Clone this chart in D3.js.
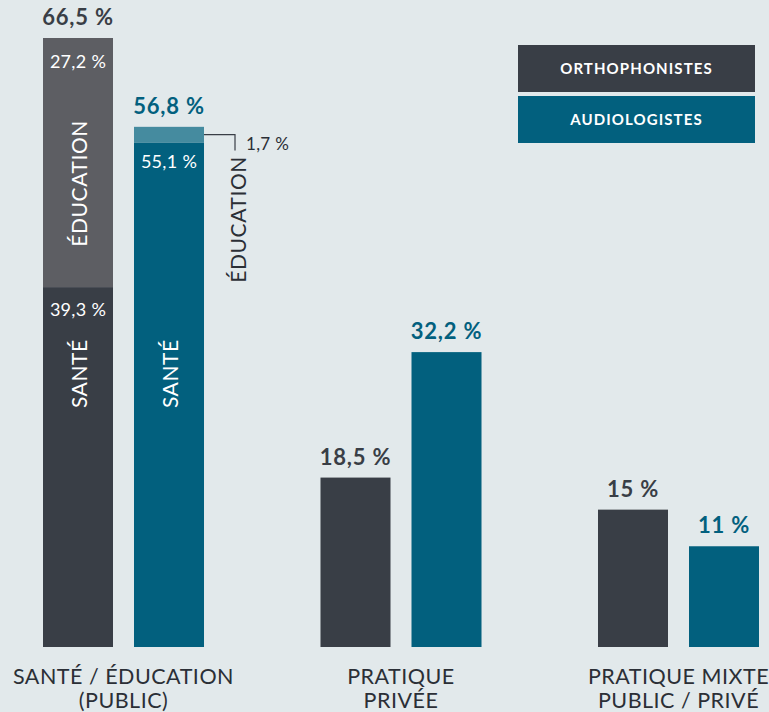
<!DOCTYPE html>
<html><head><meta charset="utf-8">
<script src="https://cdn.jsdelivr.net/npm/d3@7"></script>
<style>
html,body{margin:0;padding:0;background:#e2e9eb;}
svg{display:block;}
text{font-family:Lato,"Noto Sans",sans-serif;}
</style></head>
<body><svg id="c" width="769" height="712"></svg>
<script>
const categories = ["SANTÉ / ÉDUCATION|(PUBLIC)", "PRATIQUE|PRIVÉE", "PRATIQUE MIXTE|PUBLIC / PRIVÉ"];
const series = ["ORTHOPHONISTES", "AUDIOLOGISTES"];
const orthophonistes = [66.5, 18.5, 15];
const audiologistes = [56.8, 32.2, 11];
const santeOrtho = 39.3, educationOrtho = 27.2;
const santeAudio = 55.1, educationAudio = 1.7;
const valueLabels = {ortho: ["66,5 %", "18,5 %", "15 %"], audio: ["56,8 %", "32,2 %", "11 %"]};

const C = {bg:"#e2e9eb", dark:"#393e46", teal:"#02607e", grey:"#5d5e63", lteal:"#458b9f"};
const svg = d3.select("#c");

const x0 = d3.scaleBand().domain(categories).range([43, 759]).paddingInner(0.4198);
const x1 = d3.scaleBand().domain(series).range([0, x0.bandwidth()]).paddingInner(0.2308);
const y = d3.scaleLinear().domain([0, 66.5]).range([647, 38]);
const color = d3.scaleOrdinal().domain(series).range([C.dark, C.teal]);

const g = svg.append("g");
const data = [];
categories.forEach((c, i) => {
  data.push({cat: c, s: series[0], v: orthophonistes[i], lab: valueLabels.ortho[i], i});
  data.push({cat: c, s: series[1], v: audiologistes[i], lab: valueLabels.audio[i], i});
});

// bars (group 1 drawn as stacks)
data.forEach(d => {
  const bx = x0(d.cat) + x1(d.s), bw = x1.bandwidth();
  if (d.i === 0) {
    const segs = d.s === series[0]
      ? [{v0:0, v1:santeOrtho, c:C.dark}, {v0:santeOrtho, v1:santeOrtho+educationOrtho, c:C.grey}]
      : [{v0:0, v1:santeAudio, c:C.teal}, {v0:santeAudio, v1:santeAudio+educationAudio, c:C.lteal}];
    segs.forEach(s => g.append("rect").attr("x", bx).attr("width", bw)
      .attr("y", y(s.v1)).attr("height", y(s.v0) - y(s.v1)).attr("fill", s.c));
  } else {
    g.append("rect").attr("x", bx).attr("width", bw).attr("y", y(d.v))
      .attr("height", y(0) - y(d.v)).attr("fill", color(d.s));
  }
  g.append("text").attr("x", bx + bw/2).attr("y", y(d.v) - 13)
    .attr("text-anchor", "middle").attr("font-size", 22).attr("font-weight", 700)
    .attr("letter-spacing", 0.8)
    .attr("fill", color(d.s)).text(d.lab);
});

// inner labels for group 1
const c0 = categories[0];
const oX = x0(c0) + x1(series[0]) + x1.bandwidth()/2;
const aX = x0(c0) + x1(series[1]) + x1.bandwidth()/2;
const fmt = v => String(v).replace(".", ",") + " %";
const lab = (xx, yy, t, opts={}) => g.append("text").attr("x", xx).attr("y", yy)
  .attr("text-anchor", opts.anchor || "middle").attr("font-size", opts.size || 18)
  .attr("letter-spacing", 0.3)
  .attr("fill", opts.fill || "#fff").text(t);
lab(oX, y(santeOrtho + educationOrtho) + 30, fmt(educationOrtho));
lab(oX, y(santeOrtho) + 29, fmt(santeOrtho));
lab(aX, y(santeAudio) + 26, fmt(santeAudio));

const rot = (xx, yy, t, fill, anchor) => g.append("text")
  .attr("transform", `translate(${xx},${yy}) rotate(-90)`)
  .attr("text-anchor", anchor).attr("dominant-baseline", "central")
  .attr("font-size", 21).attr("letter-spacing", 0.6).attr("fill", fill).text(t);
rot(oX, y(santeOrtho + educationOrtho) + 82, "ÉDUCATION", "#fff", "end");
const santeY = y(santeOrtho) + 121;
rot(oX, santeY, "SANTÉ", "#fff", "start");
rot(aX, santeY, "SANTÉ", "#fff", "start");

// annotation for 1.7 %
const aRight = x0(c0) + x1(series[1]) + x1.bandwidth();
const midY = (y(santeAudio) + y(santeAudio + educationAudio)) / 2;
g.append("path").attr("d", `M${aRight},${midY}H${aRight+31}V${midY+16}`)
  .attr("fill", "none").attr("stroke", "#393e46").attr("stroke-width", 1.2);
lab(aRight + 42, midY + 15, fmt(educationAudio), {anchor: "start", size: 17, fill: "#2b2f36"});
rot(aRight + 33, y(santeAudio + educationAudio) + 156, "ÉDUCATION", "#2b2f36", "start");

// category labels
categories.forEach(c => {
  const t = g.append("text").attr("x", x0(c) + x0.bandwidth()/2).attr("y", 684)
    .attr("text-anchor", "middle").attr("font-size", 21.5).attr("letter-spacing", 0.5)
    .attr("fill", "#2b2f36");
  c.split("|").forEach((ln, k) => t.append("tspan").attr("x", x0(c) + x0.bandwidth()/2)
    .attr("dy", k ? 24 : 0).text(ln));
});

// legend
const leg = svg.append("g").attr("transform", "translate(518,45)");
series.forEach((s, k) => {
  leg.append("rect").attr("x", 0).attr("y", k * 51).attr("width", 237).attr("height", 47).attr("fill", color(s));
  leg.append("text").attr("x", 118.5).attr("y", k * 51 + 29).attr("text-anchor", "middle")
    .attr("font-size", 15).attr("font-weight", 700).attr("letter-spacing", 1.1)
    .attr("fill", "#fff").text(s);
});
</script></body></html>
